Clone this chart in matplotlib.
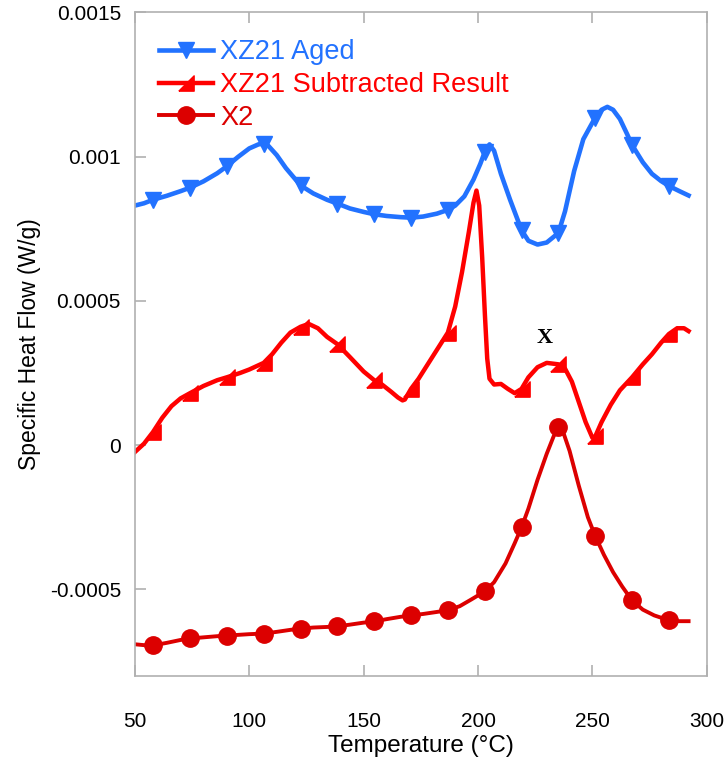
import numpy as np
import matplotlib
matplotlib.use("Agg")
import matplotlib.pyplot as plt
from matplotlib.ticker import FixedLocator, FuncFormatter

plt.rcParams['font.family'] = ['Liberation Sans', 'DejaVu Sans']

# ---------------- data ----------------
marker_T = [57.9, 74.1, 90.2, 106.3, 122.4, 138.5, 154.6, 170.7, 186.8, 202.9,
            219, 235.1, 251.2, 267.3, 283.4]

T_aged = [50, 54, 57.9, 64, 70, 74.1, 80, 86, 90.2, 95, 100, 104, 106.3, 108, 112, 116,
          122.4, 128, 134, 138.5, 144, 150, 154.6, 160, 166, 170.7, 176, 182, 186.8,
          190, 194, 198, 201, 202.9, 205, 207, 210, 214, 219, 222, 226, 230, 235.1,
          238, 242, 246, 251.2, 254, 256.5, 259, 262, 265, 267.3, 272, 276, 280,
          283.4, 288, 292]
v_aged = [8.30, 8.38, 8.50, 8.64, 8.80, 8.92, 9.14, 9.42, 9.66, 9.98, 10.28, 10.42,
          10.45, 10.40, 10.05, 9.60, 9.00, 8.72, 8.50, 8.37, 8.20, 8.08, 8.00, 7.94,
          7.90, 7.88, 7.92, 8.02, 8.15, 8.30, 8.62, 9.20, 9.75, 10.15, 10.42, 10.20,
          9.40, 8.50, 7.45, 7.08, 6.95, 7.02, 7.35, 8.10, 9.50, 10.60, 11.35, 11.62,
          11.72, 11.62, 11.30, 10.80, 10.40, 9.80, 9.40, 9.15, 8.98, 8.80, 8.65]

T_sub = [50, 54, 57.9, 62, 66, 70, 74.1, 80, 86, 90.2, 96, 100, 106.3, 110, 114, 118,
         122.4, 126, 130, 134, 138.5, 144, 150, 154.6, 158, 162, 165, 167, 168, 170.7,
         174, 178, 182, 186.8, 190, 193, 196, 198, 199.3, 200.5, 201.8, 203, 204, 205,
         207, 210, 213, 216, 219, 222, 226, 230, 235.1, 238, 241, 244, 247, 250,
         251.2, 254, 258, 262, 267.3, 272, 276, 280, 283.4, 287, 290, 292]
v_sub = [-0.24, 0.05, 0.45, 0.95, 1.35, 1.62, 1.80, 2.05, 2.25, 2.35, 2.50, 2.62, 2.85,
         3.15, 3.55, 3.90, 4.10, 4.20, 4.05, 3.75, 3.50, 3.05, 2.55, 2.25, 2.10, 1.85,
         1.65, 1.55, 1.58, 1.95, 2.30, 2.80, 3.30, 3.90, 4.80, 6.00, 7.40, 8.40, 8.82,
         8.30, 6.50, 4.50, 3.00, 2.30, 2.10, 2.12, 1.95, 1.80, 1.95, 2.35, 2.70, 2.85,
         2.80, 2.65, 2.20, 1.50, 0.80, 0.25, 0.30, 0.80, 1.40, 1.90, 2.35, 2.80, 3.15,
         3.55, 3.85, 4.05, 4.05, 3.95]

T_x2 = [50, 54, 57.9, 64, 70, 74.1, 80, 86, 90.2, 96, 100, 106.3, 112, 118, 122.4, 128,
        134, 138.5, 144, 150, 154.6, 160, 166, 170.7, 176, 182, 186.8, 192, 197, 202.9,
        207, 212, 216, 219, 222, 226, 230, 233, 235.1, 237, 240, 244, 248, 251.2, 255,
        259, 263, 267.3, 272, 277, 283.4, 288, 292]
v_x2 = [-6.90, -6.93, -6.94, -6.85, -6.75, -6.70, -6.66, -6.62, -6.60, -6.57, -6.55,
        -6.53, -6.47, -6.40, -6.36, -6.32, -6.30, -6.28, -6.22, -6.15, -6.11, -6.03,
        -5.95, -5.90, -5.85, -5.78, -5.72, -5.58, -5.35, -5.07, -4.75, -4.10, -3.40,
        -2.85, -2.20, -1.20, -0.30, 0.30, 0.62, 0.50, -0.20, -1.40, -2.50, -3.15,
        -3.80, -4.40, -4.90, -5.38, -5.70, -5.90, -6.07, -6.10, -6.10]

labels = ["XZ21 Aged", "XZ21 Subtracted Result", "X2"]
yticks = [-0.0005, 0, 0.0005, 0.001, 0.0015]
xticks = [50, 100, 150, 200, 250, 300]

# --------------- plotting ---------------
def mk_idx(T):
    return [i for i, t in enumerate(T) if any(abs(t - m) < 1e-6 for m in marker_T)]

fig = plt.figure(figsize=(7.25, 7.63), dpi=100)
ax = fig.add_axes([0.186, 0.114, 0.789, 0.870])

blue = '#2272FF'
red = '#FF0000'
dred = '#DC0000'
rtri = [(-1, -1), (1, -1), (1, 1), (-1, -1)]

l1, = ax.plot(T_aged, np.array(v_aged) * 1e-4, color=blue, lw=3.3, marker='v',
              markersize=12, markevery=mk_idx(T_aged), label=labels[0])
l2, = ax.plot(T_sub, np.array(v_sub) * 1e-4, color=red, lw=3.2, marker=rtri,
              markersize=11, markevery=mk_idx(T_sub), label=labels[1])
l3, = ax.plot(T_x2, np.array(v_x2) * 1e-4, color=dred, lw=2.8, marker='o',
              markersize=12.5, markevery=mk_idx(T_x2), label=labels[2])

ax.set_xlim(50, 300)
ax.set_ylim(-0.0008, 0.0015)
ax.xaxis.set_major_locator(FixedLocator(xticks))
ax.yaxis.set_major_locator(FixedLocator(yticks))
ax.yaxis.set_major_formatter(FuncFormatter(lambda v, p: '0' if v == 0 else ('%g' % v)))

for s in ax.spines.values():
    s.set_color('#b0b0b0')
    s.set_linewidth(1.2)
ax.tick_params(direction='in', length=8, width=1.2, color='#b0b0b0',
               labelsize=15, labelcolor='black', top=True, pad=10)
ax.tick_params(axis='x', labelsize=15, pad=26)

ax.set_xlabel('Temperature (°C)', fontsize=17.5, labelpad=3)
ax.set_ylabel('Specific Heat Flow (W/g)', fontsize=16.5, labelpad=6)

ax.text(229, 0.000372, 'X', fontsize=16, fontweight='bold', family='Liberation Serif',
        ha='center', va='center')

leg = ax.legend(loc='upper left', bbox_to_anchor=(0.0, 0.996), frameon=False,
                fontsize=19.5, handlelength=2.0, handletextpad=0.25, labelspacing=0.25,
                numpoints=1)
for txt, c in zip(leg.get_texts(), [blue, red, dred]):
    txt.set_color(c)

fig.savefig('out.png', dpi=100)
